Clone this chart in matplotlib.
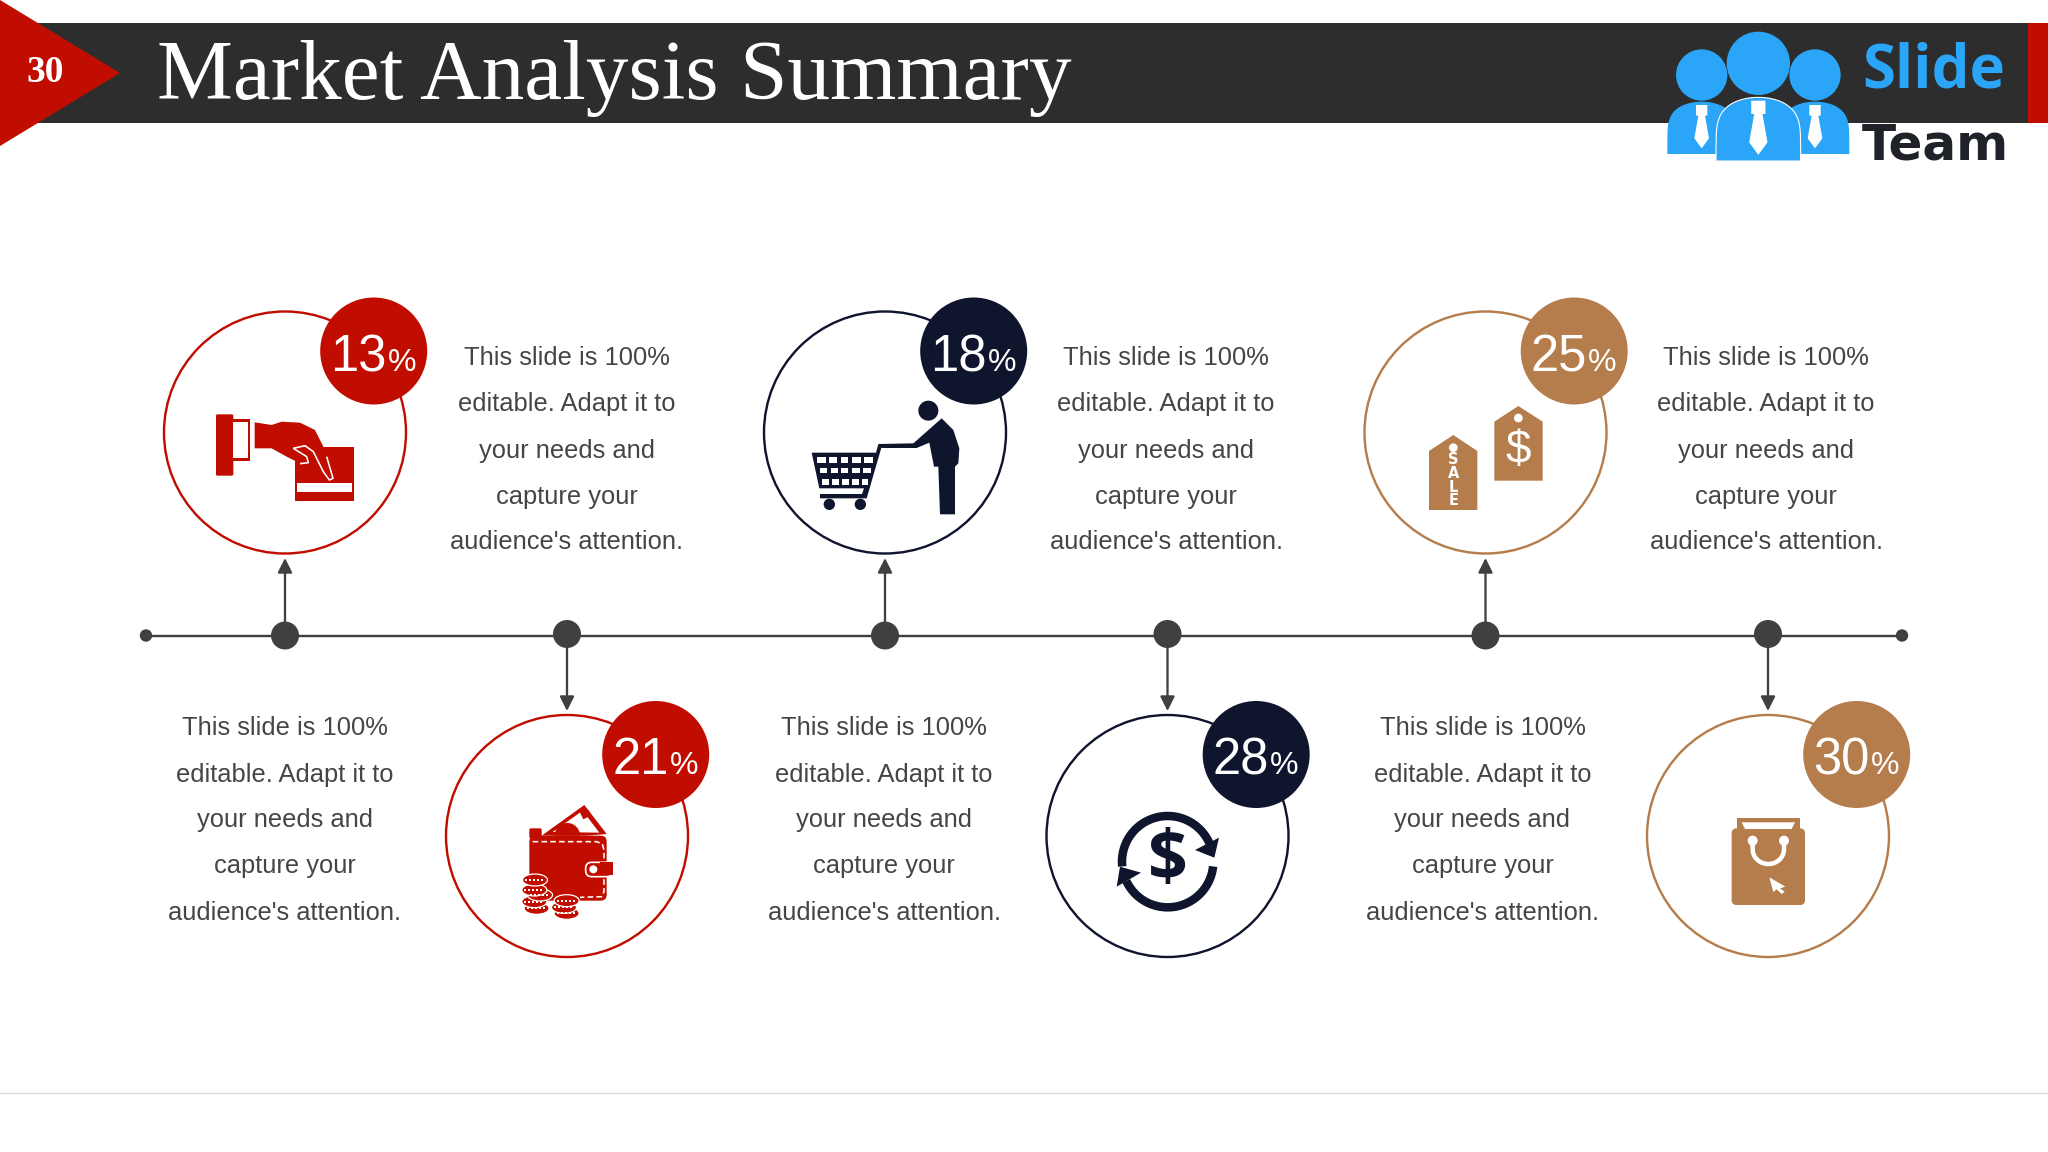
import numpy as np
import matplotlib
matplotlib.use("Agg")
import matplotlib.pyplot as plt
from matplotlib.patches import Circle, Polygon, Rectangle, FancyBboxPatch, Ellipse

# ---- content ----
TITLE = "Market Analysis Summary"
PAGE = "30"
PERCENTS = [13, 21, 18, 28, 25, 30]
BLURB = ["This slide is 100%", "editable. Adapt it to", "your needs and",
         "capture your", "audience's attention."]
LOGO_WORDS = ["Slide", "Team"]

# ---- colours ----
RED, NAVY, BROWN = "#c00d00", "#10152e", "#b57c4c"
STEP_COLORS = [RED, RED, NAVY, NAVY, BROWN, BROWN]
DARK = "#404040"
TEXT = "#454545"
BAR = "#2d2d2d"
BLUE = "#2aa5f7"

# ---- layout, in reference pixels ----
W, H = 2048, 1152
NODE_X = [285, 567, 885, 1167.5, 1485.5, 1768]
TEXT_X = [567, 285, 1166, 884, 1766, 1482.5]
LINE_Y = 635.5
CIRCLE_Y = {True: 432.5, False: 836}
TEXT_Y = {True: (357.6, 404, 450.6, 496.6, 542), False: (727.6, 774.6, 820, 866, 912.6)}
R = 121
BADGE_R = 53.5
PX = 0.72  # pixels -> points at dpi 100

plt.rcParams["font.family"] = ["Liberation Sans", "DejaVu Sans"]
fig = plt.figure(figsize=(W / 100, H / 100), dpi=100, facecolor="white")
ax = fig.add_axes([0, 0, 1, 1])
ax.set_xlim(0, W)
ax.set_ylim(H, 0)
ax.axis("off")


def pts(p, ox, oy):
    """zoomed (3x) icon sketch coordinates -> reference pixels"""
    a = np.asarray(p, float) / 3
    return a + [ox, oy]


def poly(p, ox, oy, c, z=6, **k):
    ax.add_patch(Polygon(pts(p, ox, oy), closed=True, fc=c, ec=k.pop("ec", "none"), zorder=z, **k))


def rect(x0, y0, x1, y1, ox, oy, c, z=6, rad=0, ec="none", lw=0):
    x0, x1 = x0 / 3 + ox, x1 / 3 + ox
    y0, y1 = y0 / 3 + oy, y1 / 3 + oy
    if rad:
        ax.add_patch(FancyBboxPatch((x0 + rad, y0 + rad), x1 - x0 - 2 * rad, y1 - y0 - 2 * rad,
                                    boxstyle=f"round,pad={rad},rounding_size={rad}",
                                    fc=c, ec=ec, lw=lw, zorder=z))
    else:
        ax.add_patch(Rectangle((x0, y0), x1 - x0, y1 - y0, fc=c, ec=ec, lw=lw, zorder=z))


def dot(x, y, r, ox, oy, c, z=6, ec="none", lw=0):
    ax.add_patch(Circle((x / 3 + ox, y / 3 + oy), r / 3, fc=c, ec=ec, lw=lw, zorder=z))


def stroke(p, ox, oy, c, w, z=7, **k):
    a = pts(p, ox, oy)
    ax.plot(a[:, 0], a[:, 1], color=c, lw=w * PX, zorder=z, solid_capstyle=k.pop("cap", "butt"), **k)


# ---- header ----
ax.add_patch(Rectangle((0, 23), 2028, 100, fc=BAR, ec="none", zorder=1))
ax.add_patch(Rectangle((2028, 23), 20, 100, fc=RED, ec="none", zorder=1))
ax.add_patch(Polygon([(0, 0), (120, 73), (0, 146)], closed=True, fc=RED, ec="none", zorder=2))
ax.text(45.5, 72.5, PAGE, color="white", family="Liberation Serif", weight="bold", fontsize=27,
        ha="center", va="center", zorder=3)
ax.text(157, 99, TITLE, color="white", family="Liberation Serif", fontsize=61.4,
        ha="left", va="baseline", zorder=3)

# ---- logo ----
LX, LY = 1620, 0
for x, y, r in [(245, 225, 77), (585, 225, 77), (415, 190, 95)]:
    dot(x, y, r, LX, LY, BLUE, z=4)
for x0, x1, top, bot, z in [(142, 348, 305, 462, 4), (482, 688, 305, 462, 4), (288, 542, 292, 483, 5)]:
    cx = (x0 + x1) / 2
    t = np.linspace(0, np.pi, 30)
    hw = (x1 - x0) / 2
    arch = np.c_[cx - hw * np.cos(t), bot - 30 - (bot - 30 - top) * np.sin(t) ** 0.5]
    outline = np.r_[[[cx - hw, bot]], arch, [[cx + hw, bot]]]
    poly(outline, LX, LY, BLUE, z=z, ec="white" if z == 5 else "none", lw=0.8 if z == 5 else 0)
for cx, s, y0 in [(245, 1, 315), (585, 1, 315), (415, 1.25, 302)]:
    tie = [(cx - 17, y0), (cx + 17, y0), (cx + 17, y0 + 32), (cx + 10, y0 + 32), (cx + 22, y0 + 100),
           (cx, y0 + 130), (cx - 22, y0 + 100), (cx - 10, y0 + 32), (cx - 17, y0 + 32)]
    a = np.asarray(tie, float)
    a[:, 0] = cx + (a[:, 0] - cx) * s
    a[:, 1] = y0 + (a[:, 1] - y0) * s
    poly(a, LX, LY, "white", z=6)
ax.text(1862, 87, LOGO_WORDS[0], color=BLUE, family="Open Sans", weight="bold", fontsize=43.2,
        ha="left", va="baseline", zorder=5)
ax.text(1862, 160, LOGO_WORDS[1], color="#1f2329", family="DejaVu Sans", weight="bold", fontsize=36,
        ha="left", va="baseline", zorder=5)

# ---- timeline ----
ax.plot([146, 1902], [LINE_Y, LINE_Y], color=DARK, lw=2.4 * PX, zorder=2, solid_capstyle="butt")
for x in (146, 1902):
    ax.add_patch(Circle((x, LINE_Y), 6.2, fc=DARK, ec="none", zorder=3))

# ---- steps ----
for i, (x, tx, pct, col) in enumerate(zip(NODE_X, TEXT_X, PERCENTS, STEP_COLORS)):
    up = i % 2 == 0
    cy = CIRCLE_Y[up]
    tip = 558 if up else 711
    node_y = LINE_Y if up else LINE_Y - 1.5
    ax.annotate("", xy=(x, tip), xytext=(x, node_y),
                arrowprops=dict(arrowstyle="-|>,head_length=0.72,head_width=0.36",
                                color=DARK, lw=2.3 * PX, shrinkA=0, shrinkB=0, mutation_scale=12),
                zorder=2)
    ax.add_patch(Circle((x, node_y), 14, fc=DARK, ec="none", zorder=3))
    ax.add_patch(Circle((x, cy), R, fc="white", ec=col, lw=2.4 * PX, zorder=2))
    bx, by = x + 88.7, cy - 81.5
    ax.add_patch(Circle((bx, by), BADGE_R, fc=col, ec="none", zorder=4))
    ax.text(bx + 13, by + 20, f"{pct}", color="white", fontsize=36.5, ha="right", va="baseline", zorder=5)
    ax.text(bx + 14, by + 20, "%", color="white", fontsize=23, ha="left", va="baseline", zorder=5)
    for line, y in zip(BLURB, TEXT_Y[up]):
        ax.text(tx, y, line, color=TEXT, fontsize=18.4, ha="center", va="center", zorder=3)

# ---- footer rule ----
ax.plot([0, W], [1093, 1093], color="#d9d9d9", lw=1.4 * PX, zorder=1)

# ---- icon 1: hand and card ----
ox, oy = 140, 280
rect(228, 403, 280, 587, ox, oy, RED, rad=1.5)
rect(270, 417, 330, 543, ox, oy, RED)
rect(280, 427, 323, 533, ox, oy, "white", z=7)
rect(466, 500, 642, 664, ox, oy, RED)
rect(472, 610, 637, 635, ox, oy, "white", z=7)
hand = [(344, 427), (395, 435), (425, 425), (480, 428), (525, 450), (550, 500), (570, 560), (580, 595),
        (570, 603), (555, 580), (525, 520), (500, 498), (460, 503), (500, 530), (505, 548), (480, 550),
        (440, 530), (395, 505), (344, 505)]
poly(hand, ox, oy, RED, z=7)
stroke([(460, 505), (495, 497), (520, 515), (550, 575), (568, 600), (579, 595), (560, 530)], ox, oy, "white", 1.6, z=8)
stroke([(460, 505), (500, 530), (505, 548), (480, 551)], ox, oy, "white", 1.6, z=8)

# ---- icon 2: person and cart ----
ox, oy = 740, 290
dot(565, 362, 30, ox, oy, NAVY)
poly([(605, 385), (640, 420), (658, 475), (655, 520), (645, 530), (645, 673), (600, 673), (595, 530),
      (582, 530), (568, 458), (530, 474), (425, 474), (415, 462), (520, 460)], ox, oy, NAVY)
poly([(215, 488), (408, 488), (415, 462), (425, 470), (380, 625), (240, 625), (240, 612), (366, 612),
      (372, 595), (238, 595)], ox, oy, NAVY)
rows = [(500, 518, [(232, 258), (268, 292), (302, 325), (337, 362), (373, 400)]),
        (533, 550, [(240, 262), (272, 294), (304, 325), (337, 360), (370, 393)]),
        (566, 585, [(246, 266), (276, 296), (306, 326), (337, 356), (367, 385)])]
for y0, y1, cells in rows:
    for x0, x1 in cells:
        rect(x0, y0, x1, y1, ox, oy, "white", z=7)
dot(268, 643, 17, ox, oy, NAVY)
dot(361, 643, 17, ox, oy, NAVY)

# ---- icon 3: price tags ----
ox, oy = 1350, 290
poly([(237, 483), (310, 435), (382, 483), (382, 660), (237, 660)], ox, oy, BROWN)
dot(310, 473, 13, ox, oy, "white", z=7)
for ch, y in zip("SALE", (510, 552, 592, 632)):
    ax.text(ox + 310 / 3, oy + y / 3, ch, color="white", weight="bold", fontsize=10.5, ha="center",
            va="center", zorder=7, family="DejaVu Sans")
poly([(433, 395), (505, 348), (578, 395), (578, 572), (433, 572)], ox, oy, BROWN)
dot(505, 384, 13, ox, oy, "white", z=7)
ax.text(ox + 505 / 3, oy + 482 / 3, "$", color="white", fontsize=33, ha="center", va="center", zorder=7)

# ---- icon 4: wallet and coins ----
ox, oy = 440, 690
poly([(305, 437), (433, 345), (500, 432), (440, 437)], ox, oy, RED)
poly([(338, 426), (428, 362), (478, 428)], ox, oy, "white", z=7)
t = np.linspace(np.pi, 2 * np.pi, 30)
poly(np.c_[382 + 38 * np.cos(t), 437 + 38 * np.sin(t)], ox, oy, RED, z=8)
poly([(415, 358), (448, 362), (450, 378), (430, 388)], ox, oy, RED, z=8)
rect(268, 415, 305, 445, ox, oy, RED, rad=1.5)
rect(268, 437, 500, 632, ox, oy, RED, rad=6)
stroke([(278, 455), (470, 455), (487, 462), (492, 480), (492, 605), (485, 620), (420, 622)],
       ox, oy, "white", 1.6, z=8, linestyle=(0, (3.5, 2)))
rect(437, 517, 518, 560, ox, oy, RED, z=8, rad=6, ec="white", lw=1.2)
rect(480, 517, 520, 556, ox, oy, RED, z=8)
dot(460, 538, 12, ox, oy, "white", z=9)
coins = [(290, 655), (283, 635), (300, 615), (283, 600), (285, 570), (380, 670), (372, 652), (380, 632)]
for x, y in coins:
    ax.add_patch(Ellipse((ox + x / 3, oy + y / 3), 25, 12, fc=RED, ec="white", lw=0.9, zorder=9))
    stroke([(x - 30, y), (x + 30, y)], ox, oy, "white", 2, z=10, linestyle=(0, (1, 1)))

# ---- icon 5: dollar cycle ----
ox, oy = 1040, 690
arc = lambda a0, a1: np.c_[383 + 137 * np.cos(np.radians(np.linspace(a0, a1, 50))),
                           515 + 137 * np.sin(np.radians(np.linspace(a0, a1, 50)))]
stroke(arc(174, 338), ox, oy, NAVY, 8.5)
stroke(arc(6, 155), ox, oy, NAVY, 8.5)
poly([(537, 443), (523, 503), (465, 480)], ox, oy, NAVY, z=8)
poly([(230, 590), (240, 530), (303, 548)], ox, oy, NAVY, z=8)
ax.text(ox + 384 / 3, oy + 515 / 3, "$", color=NAVY, family="Open Sans", weight="bold", fontsize=50,
        ha="center", va="center", zorder=8)

# ---- icon 6: shopping bag ----
ox, oy = 1640, 690
rect(275, 415, 495, 645, ox, oy, BROWN, rad=5)
rect(290, 385, 480, 420, ox, oy, BROWN)
poly([(305, 397), (465, 397), (455, 417), (315, 417)], ox, oy, "white", z=7)
t = np.linspace(np.pi, 0, 30)
u = np.c_[385 + 47 * np.cos(t), 478 + 44 * np.sin(t)]
stroke(np.r_[[[338, 452]], u, [[432, 452]]], ox, oy, "white", 4.5, z=7)
dot(338, 452, 15, ox, oy, "white", z=7)
dot(432, 452, 15, ox, oy, "white", z=7)
poly([(388, 562), (436, 590), (420, 595), (434, 605), (425, 612), (410, 598), (400, 606)], ox, oy, "white", z=7)

fig.savefig("out.png", dpi=100, facecolor="white")
